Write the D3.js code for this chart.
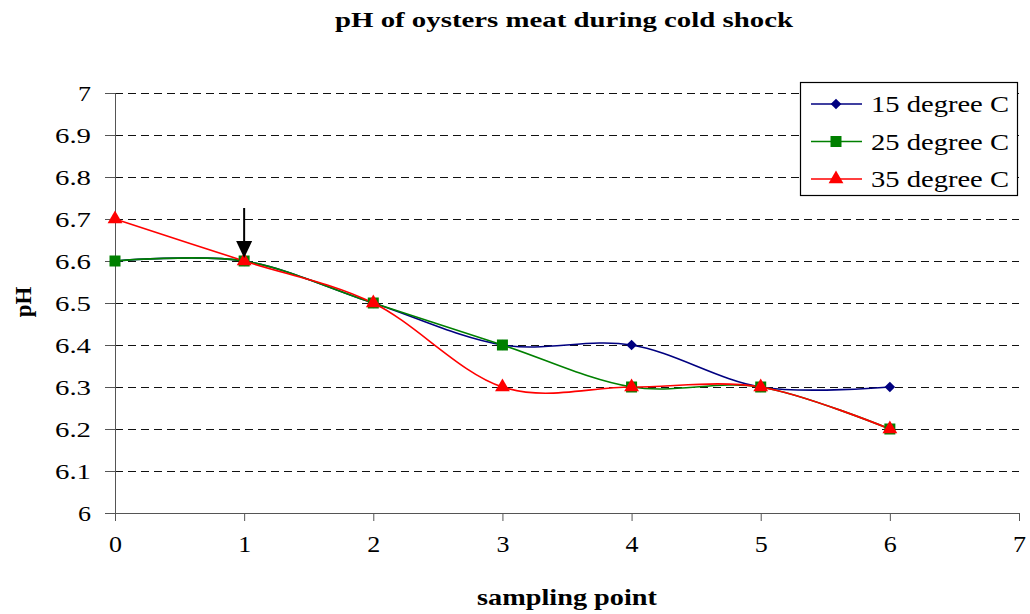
<!DOCTYPE html>
<html>
<head>
<meta charset="utf-8">
<script src="https://cdn.jsdelivr.net/npm/d3@7"></script>
<style>
  body { margin: 0; background: #fff; }
  svg { display: block; }
  svg text { font-family: "Liberation Serif", "Times New Roman", Times, serif; fill: #000; }
</style>
</head>
<body>
<svg id="chart" width="1030" height="614"></svg>
<script>
// Sampling points and pH readings per holding temperature
const samplingPoints = [0, 1, 2, 3, 4, 5, 6];
const ph15 = [6.6, 6.6, 6.5, 6.4, 6.4, 6.3, 6.3];
const ph25 = [6.6, 6.6, 6.5, 6.4, 6.3, 6.3, 6.2];
const ph35 = [6.7, 6.6, 6.5, 6.3, 6.3, 6.3, 6.2];
const seriesNames = ["15 degree C", "25 degree C", "35 degree C"];
const xTicks = [0, 1, 2, 3, 4, 5, 6, 7];
const yTicks = [6, 6.1, 6.2, 6.3, 6.4, 6.5, 6.6, 6.7, 6.8, 6.9, 7];
const shockPoint = 1;      // x position of the cold-shock marker arrow
const shockValue = 6.6;

const series = [
  { name: seriesNames[0], values: ph15, color: "#000080", shape: "diamond" },
  { name: seriesNames[1], values: ph25, color: "#008000", shape: "square" },
  { name: seriesNames[2], values: ph35, color: "#ff0000", shape: "triangle" }
];

const svg = d3.select("#chart");
const x = d3.scaleLinear().domain([0, 7]).range([115, 1019]);
const y = d3.scaleLinear().domain([6, 7]).range([513, 93]);

// Wide tick-label widths: single digits vs "6.x"
const tickWidth = s => (s.length === 1 ? 13 : 36);

// Dashed horizontal gridlines
svg.append("g")
  .selectAll("line")
  .data(yTicks.filter(d => d > 6))
  .join("line")
  .attr("x1", x(0)).attr("x2", x(7))
  .attr("y1", d => Math.round(y(d)) + 0.5).attr("y2", d => Math.round(y(d)) + 0.5)
  .attr("stroke", "#111")
  .attr("stroke-width", 1)
  .attr("stroke-dasharray", "8,5");

// Y axis
const yAxis = svg.append("g")
  .attr("transform", `translate(${x(0)},0)`)
  .call(d3.axisLeft(y).tickValues(yTicks).tickSize(10).tickPadding(14)
    .tickFormat(d => d3.format("~g")(d)));
yAxis.select(".domain").attr("stroke", "#555");
yAxis.selectAll(".tick line").attr("stroke", "#555");
yAxis.selectAll("text")
  .style("font-size", "22px")
  .attr("textLength", function () { return tickWidth(this.textContent); })
  .attr("lengthAdjust", "spacingAndGlyphs");

// X axis
const xAxis = svg.append("g")
  .attr("transform", `translate(0,${y(6)})`)
  .call(d3.axisBottom(x).tickValues(xTicks).tickSize(8).tickPadding(15)
    .tickFormat(d3.format("d")));
xAxis.select(".domain").attr("stroke", "#555");
xAxis.selectAll(".tick line").attr("stroke", "#555");
xAxis.selectAll("text")
  .style("font-size", "23px")
  .attr("textLength", function () { return tickWidth(this.textContent); })
  .attr("lengthAdjust", "spacingAndGlyphs");

// Smoothed series lines
const line = d3.line()
  .x((d, i) => x(samplingPoints[i]))
  .y(d => y(d))
  .curve(d3.curveCardinal.tension(0));

const symbolFor = {
  diamond: d3.symbol().type(d3.symbolDiamond2 || d3.symbolDiamond).size(72),
  square: d3.symbol().type(d3.symbolSquare).size(121),
  triangle: d3.symbol().type(d3.symbolTriangle).size(95)
};

const gSeries = svg.append("g");
series.forEach(s => {
  gSeries.append("path")
    .datum(s.values)
    .attr("fill", "none")
    .attr("stroke", s.color)
    .attr("stroke-width", 1.6)
    .attr("d", line);
});
series.forEach(s => {
  gSeries.append("g")
    .selectAll("path")
    .data(s.values)
    .join("path")
    .attr("transform", (d, i) => `translate(${x(samplingPoints[i])},${y(d)})`)
    .attr("d", symbolFor[s.shape]())
    .attr("fill", s.color);
});

// Arrow marking the cold shock
const ax = x(shockPoint);
const tipY = y(shockValue) - 3;
svg.append("line")
  .attr("x1", ax).attr("x2", ax)
  .attr("y1", tipY - 50).attr("y2", tipY - 14)
  .attr("stroke", "#000").attr("stroke-width", 2);
svg.append("path")
  .attr("d", `M${ax - 8},${tipY - 17} L${ax + 8},${tipY - 17} L${ax},${tipY} Z`)
  .attr("fill", "#000");

// Legend
const legend = svg.append("g").attr("transform", "translate(800,82)");
legend.append("rect")
  .attr("x", 0.5).attr("y", 0.5)
  .attr("width", 217).attr("height", 113)
  .attr("fill", "#fff").attr("stroke", "#000").attr("stroke-width", 1.2);
series.forEach((s, i) => {
  const ly = 22 + i * 37.5;
  legend.append("line")
    .attr("x1", 11).attr("x2", 62).attr("y1", ly).attr("y2", ly)
    .attr("stroke", s.color).attr("stroke-width", 1.6);
  legend.append("path")
    .attr("transform", `translate(36,${ly})`)
    .attr("d", symbolFor[s.shape]())
    .attr("fill", s.color);
  legend.append("text")
    .attr("x", 71).attr("y", ly + 8)
    .attr("textLength", 138)
    .attr("lengthAdjust", "spacingAndGlyphs")
    .style("font-size", "24px")
    .text(s.name);
});

// Title and axis titles
svg.append("text")
  .attr("x", 335).attr("y", 27)
  .attr("textLength", 458)
  .attr("lengthAdjust", "spacingAndGlyphs")
  .style("font-size", "22px").style("font-weight", "bold")
  .text("pH of oysters meat during cold shock");

svg.append("text")
  .attr("transform", "translate(31,302) rotate(-90)")
  .attr("text-anchor", "middle")
  .style("font-size", "23px").style("font-weight", "bold")
  .text("pH");

svg.append("text")
  .attr("x", 477).attr("y", 605)
  .attr("textLength", 180)
  .attr("lengthAdjust", "spacingAndGlyphs")
  .style("font-size", "23px").style("font-weight", "bold")
  .text("sampling point");
</script>
</body>
</html>
